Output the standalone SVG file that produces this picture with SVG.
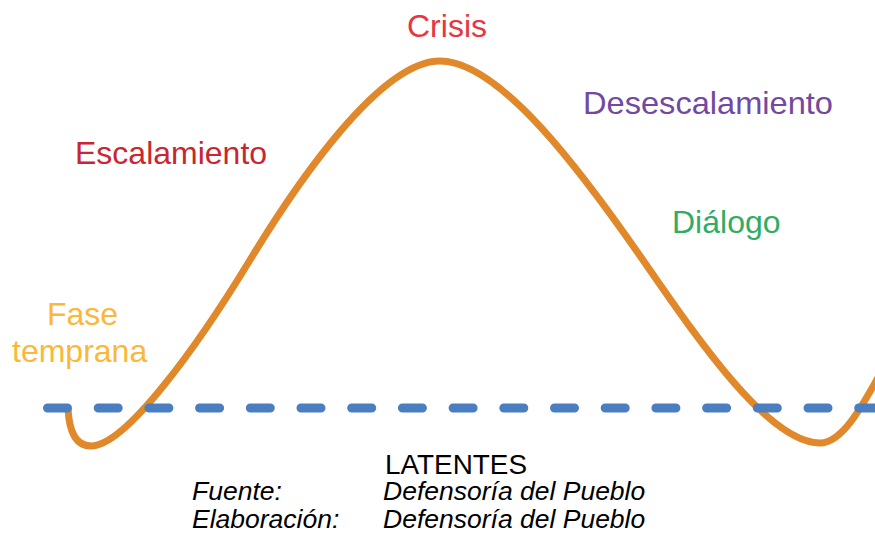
<svg xmlns="http://www.w3.org/2000/svg" width="875" height="533" viewBox="0 0 875 533">
<style>
.lbl{font-family:"Liberation Sans","Noto Sans",Arial,sans-serif;font-size:32px}
.src{font-family:"Liberation Sans",Arial,sans-serif;font-size:26.5px;font-style:italic;fill:#000}
</style>
<rect width="875" height="533" fill="#ffffff"/>
<g id="connectors">
<path id="curve" fill="none" stroke="#E0882A" stroke-width="7" stroke-linecap="butt" stroke-linejoin="round"
d="M68,408 C69,432 76,446 91,446 C126,446 198,345.5 250,260 C296.8,183 380,61 440,61 C500,61 582.5,172.5 645,263 C701.8,345.3 770,443 820,443 C845,443 868,395 885,365"/>
<path id="baseline" d="M47.5,408 H875" fill="none" stroke="#4A7EC1" stroke-width="9" stroke-linecap="round" stroke-dasharray="20 30.7"/>
</g>
<g id="crisis"><text class="lbl" x="407" y="37" fill="#E8353F">Crisis</text></g>
<g id="escalamiento"><text class="lbl" x="75" y="164" fill="#C9262F">Escalamiento</text></g>
<g id="desescalamiento"><text class="lbl" x="583" y="114" fill="#7249A2" textLength="250" lengthAdjust="spacingAndGlyphs">Desescalamiento</text></g>
<g id="dialogo"><text class="lbl" x="672" y="233" fill="#30AC64">Diálogo</text></g>
<g id="fase-temprana">
<text class="lbl" x="47" y="325" fill="#F9B83A">Fase</text>
<text class="lbl" x="12" y="362" fill="#F9B83A">temprana</text>
</g>
<g id="latentes"><text x="385" y="474" font-family="'Liberation Sans',Arial,sans-serif" font-size="27" fill="#000" textLength="142" lengthAdjust="spacingAndGlyphs">LATENTES</text></g>
<g id="fuente">
<text class="src" x="192" y="500">Fuente:</text>
<text class="src" x="383" y="500">Defensoría del Pueblo</text>
<text class="src" x="192" y="528">Elaboración:</text>
<text class="src" x="383" y="528">Defensoría del Pueblo</text>
</g>
</svg>
